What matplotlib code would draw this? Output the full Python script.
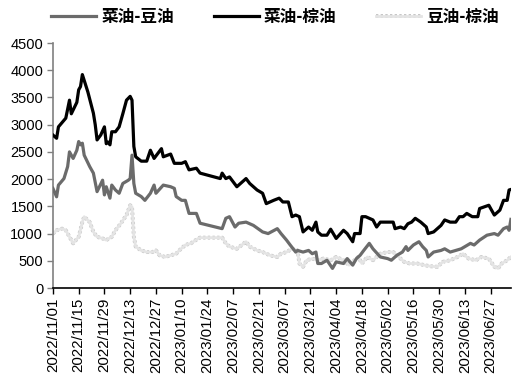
import pandas as pd
import matplotlib
matplotlib.use("Agg")
import matplotlib.pyplot as plt
import matplotlib.dates as mdates
from matplotlib.ticker import FixedLocator
from matplotlib.legend_handler import HandlerTuple

# ------------------------------------------------------------
# Data (spread, yuan/ton)
# ------------------------------------------------------------

# 菜油-棕油 (black)
rp_dates = [
    "2022-11-01", "2022-11-03", "2022-11-04", "2022-11-08", "2022-11-10",
    "2022-11-11", "2022-11-14", "2022-11-15", "2022-11-16", "2022-11-17",
    "2022-11-20", "2022-11-23", "2022-11-24", "2022-11-25", "2022-11-27",
    "2022-11-29", "2022-11-30", "2022-12-01", "2022-12-02", "2022-12-03",
    "2022-12-05", "2022-12-07", "2022-12-09", "2022-12-11", "2022-12-13",
    "2022-12-14", "2022-12-15", "2022-12-16", "2022-12-19", "2022-12-22",
    "2022-12-24", "2022-12-26", "2022-12-30", "2022-12-31", "2023-01-04",
    "2023-01-06", "2023-01-10", "2023-01-12", "2023-01-14", "2023-01-18",
    "2023-01-20", "2023-01-31", "2023-02-01", "2023-02-03", "2023-02-05",
    "2023-02-09", "2023-02-14", "2023-02-16", "2023-02-20", "2023-02-23",
    "2023-02-25", "2023-03-01", "2023-03-04", "2023-03-06", "2023-03-09",
    "2023-03-11", "2023-03-13", "2023-03-15", "2023-03-17", "2023-03-20",
    "2023-03-22", "2023-03-24", "2023-03-25", "2023-03-27", "2023-03-30",
    "2023-04-01", "2023-04-04", "2023-04-08", "2023-04-10", "2023-04-13",
    "2023-04-14", "2023-04-17", "2023-04-18", "2023-04-20", "2023-04-24",
    "2023-04-26", "2023-04-28", "2023-05-05", "2023-05-06", "2023-05-09",
    "2023-05-11", "2023-05-13", "2023-05-15", "2023-05-17", "2023-05-20",
    "2023-05-23", "2023-05-24", "2023-05-27", "2023-05-31", "2023-06-02",
    "2023-06-05", "2023-06-08", "2023-06-10", "2023-06-12", "2023-06-14",
    "2023-06-17", "2023-06-20", "2023-06-21", "2023-06-26", "2023-06-29",
    "2023-07-02", "2023-07-04", "2023-07-06", "2023-07-07", "2023-07-08",
]
rp_values = [
    2810, 2750, 2960, 3120, 3450, 3200, 3410, 3640, 3700, 3920,
    3600, 3210, 3000, 2720, 2810, 2960, 2650, 2680, 2630, 2870,
    2870, 2960, 3200, 3450, 3520, 3450, 2600, 2410, 2330, 2330,
    2530, 2380, 2560, 2410, 2460, 2290, 2290, 2320, 2170, 2200,
    2110, 2010, 2110, 2010, 2040, 1860, 2010, 1920, 1800, 1740,
    1550, 1610, 1650, 1580, 1580, 1310, 1340, 1310, 1030, 1120,
    1060, 1210, 1030, 970, 970, 1080, 910, 1060, 1000, 850,
    1000, 1000, 1310, 1310, 1250, 1120, 1210, 1210, 1090, 1120,
    1090, 1180, 1210, 1280, 1210, 1120, 1000, 1030, 1150, 1250,
    1210, 1210, 1310, 1310, 1370, 1310, 1310, 1460, 1520, 1340,
    1430, 1610, 1610, 1800, 1810,
]

# 菜油-豆油 (dark grey)
rs_dates = [
    "2022-11-01", "2022-11-03", "2022-11-04", "2022-11-07", "2022-11-09",
    "2022-11-10", "2022-11-12", "2022-11-14", "2022-11-15", "2022-11-16",
    "2022-11-17", "2022-11-18", "2022-11-21", "2022-11-23", "2022-11-25",
    "2022-11-28", "2022-11-29", "2022-11-30", "2022-12-02", "2022-12-03",
    "2022-12-05", "2022-12-07", "2022-12-09", "2022-12-12", "2022-12-13",
    "2022-12-14", "2022-12-15", "2022-12-16", "2022-12-19", "2022-12-21",
    "2022-12-24", "2022-12-26", "2022-12-27", "2022-12-31", "2023-01-04",
    "2023-01-06", "2023-01-07", "2023-01-10", "2023-01-12", "2023-01-14",
    "2023-01-18", "2023-01-20", "2023-02-01", "2023-02-03", "2023-02-05",
    "2023-02-08", "2023-02-10", "2023-02-14", "2023-02-18", "2023-02-23",
    "2023-02-26", "2023-03-03", "2023-03-05", "2023-03-08", "2023-03-10",
    "2023-03-13", "2023-03-14", "2023-03-17", "2023-03-20", "2023-03-22",
    "2023-03-24", "2023-03-25", "2023-03-27", "2023-03-30", "2023-04-02",
    "2023-04-04", "2023-04-08", "2023-04-10", "2023-04-13", "2023-04-15",
    "2023-04-17", "2023-04-19", "2023-04-22", "2023-04-24", "2023-04-28",
    "2023-05-02", "2023-05-04", "2023-05-07", "2023-05-10", "2023-05-12",
    "2023-05-13", "2023-05-16", "2023-05-19", "2023-05-21", "2023-05-23",
    "2023-05-24", "2023-05-27", "2023-05-31", "2023-06-02", "2023-06-05",
    "2023-06-08", "2023-06-11", "2023-06-13", "2023-06-16", "2023-06-18",
    "2023-06-21", "2023-06-25", "2023-06-29", "2023-07-01", "2023-07-04",
    "2023-07-06", "2023-07-07", "2023-07-08",
]
rs_values = [
    1830, 1675, 1890, 2010, 2230, 2500, 2380, 2530, 2690, 2630,
    2660, 2440, 2230, 2110, 1770, 1980, 1710, 1860, 1650, 1890,
    1800, 1740, 1920, 1980, 2010, 2440, 1920, 1740, 1680, 1610,
    1740, 1890, 1740, 1890, 1860, 1830, 1680, 1610, 1610, 1370,
    1370, 1190, 1090, 1280, 1310, 1120, 1190, 1210, 1150, 1030,
    1000, 1090, 1000, 880, 790, 660, 690, 660, 690, 630,
    660, 450, 450, 510, 360, 480, 450, 540, 420, 540,
    600, 690, 820, 720, 570, 540, 510, 600, 660, 760,
    690, 790, 850, 760, 690, 570, 660, 690, 720, 660,
    690, 720, 760, 820, 790, 880, 970, 1000, 970, 1090,
    1120, 1060, 1260,
]

# 豆油-棕油 (light grey)
sp_dates = [
    "2022-11-01", "2022-11-03", "2022-11-06", "2022-11-08", "2022-11-10",
    "2022-11-12", "2022-11-15", "2022-11-17", "2022-11-18", "2022-11-21",
    "2022-11-23", "2022-11-25", "2022-11-28", "2022-11-30", "2022-12-03",
    "2022-12-05", "2022-12-08", "2022-12-11", "2022-12-13", "2022-12-14",
    "2022-12-15", "2022-12-16", "2022-12-19", "2022-12-22", "2022-12-25",
    "2022-12-27", "2022-12-29", "2023-01-01", "2023-01-04", "2023-01-07",
    "2023-01-09", "2023-01-12", "2023-01-15", "2023-01-19", "2023-01-20",
    "2023-02-01", "2023-02-03", "2023-02-05", "2023-02-09", "2023-02-14",
    "2023-02-16", "2023-02-20", "2023-02-23", "2023-02-27", "2023-03-03",
    "2023-03-05", "2023-03-08", "2023-03-11", "2023-03-14", "2023-03-15",
    "2023-03-17", "2023-03-19", "2023-03-22", "2023-03-25", "2023-03-28",
    "2023-04-01", "2023-04-04", "2023-04-08", "2023-04-11", "2023-04-14",
    "2023-04-16", "2023-04-18", "2023-04-21", "2023-04-24", "2023-04-28",
    "2023-05-02", "2023-05-05", "2023-05-08", "2023-05-11", "2023-05-14",
    "2023-05-18", "2023-05-22", "2023-05-25", "2023-05-29", "2023-06-01",
    "2023-06-05", "2023-06-09", "2023-06-12", "2023-06-15", "2023-06-19",
    "2023-06-22", "2023-06-26", "2023-06-29", "2023-07-01", "2023-07-03",
    "2023-07-06", "2023-07-08",
]
sp_values = [
    1000, 1060, 1090, 1060, 940, 820, 940, 1210, 1310, 1210,
    1030, 940, 910, 880, 940, 1060, 1190, 1340, 1520, 1490,
    940, 760, 690, 660, 660, 690, 600, 570, 600, 630,
    700, 790, 820, 910, 925, 925, 820, 760, 720, 850,
    760, 690, 660, 600, 570, 630, 660, 720, 690, 450,
    390, 510, 540, 510, 540, 510, 570, 510, 420, 510,
    570, 450, 570, 510, 630, 660, 660, 570, 480, 450,
    450, 420, 400, 390, 480, 510, 570, 630, 540, 510,
    570, 540, 390, 360, 450, 510, 570,
]

y_ticks = list(range(0, 4501, 500))
x_start = "2022-11-01"
x_last_tick = "2023-06-27"
x_end = "2023-07-08"


def main():
    plt.rcParams["font.family"] = ["Liberation Sans", "Noto Sans CJK SC"]

    fig = plt.figure(figsize=(5.24, 3.84), dpi=100)
    ax = fig.add_axes([0.101, 0.25, 0.874, 0.638])

    rs = ax.plot(pd.to_datetime(rs_dates), rs_values, color="#6b6b6b",
                 lw=2.3, solid_joinstyle="round", zorder=3)[0]
    rp = ax.plot(pd.to_datetime(rp_dates), rp_values, color="#000000",
                 lw=2.3, solid_joinstyle="round", zorder=4)[0]
    # light line with a faint dotted rim, like the Excel rendering
    sp_rim = ax.plot(pd.to_datetime(sp_dates), sp_values, color="#c4c4c4",
                     lw=2.8, ls=(0, (0.6, 0.6)), zorder=2)[0]
    sp_core = ax.plot(pd.to_datetime(sp_dates), sp_values, color="#e4e4e4",
                      lw=2.0, solid_joinstyle="round", zorder=2.5)[0]

    ax.set_ylim(0, 4500)
    ax.set_yticks(y_ticks)
    ax.set_xlim(pd.Timestamp(x_start), pd.Timestamp(x_end))
    tick_dates = pd.date_range(x_start, x_last_tick, freq="14D")
    ax.xaxis.set_major_locator(FixedLocator(mdates.date2num(tick_dates)))
    ax.xaxis.set_major_formatter(mdates.DateFormatter("%Y/%m/%d"))
    ax.tick_params(axis="x", labelrotation=90, labelsize=10.8, length=4,
                   width=1, color="#000000", pad=3)
    ax.tick_params(axis="y", labelsize=10.5, length=4, width=1,
                   color="#808080", pad=3)

    for side in ["top", "right"]:
        ax.spines[side].set_visible(False)
    ax.spines["left"].set_color("#808080")
    ax.spines["left"].set_linewidth(1.2)
    ax.spines["bottom"].set_color("#000000")
    ax.spines["bottom"].set_linewidth(1.2)

    fig.legend(
        [rs, rp, (sp_rim, sp_core)],
        ["菜油-豆油", "菜油-棕油", "豆油-棕油"],
        handler_map={tuple: HandlerTuple(ndivide=1)},
        loc="center", bbox_to_anchor=(0.525, 0.957), ncol=3, frameon=False,
        prop={"family": ["Noto Sans CJK SC"], "weight": "bold", "size": 12},
        handlelength=2.7, handletextpad=0.3, columnspacing=2.4,
    )

    fig.savefig("out.png", dpi=100)


if __name__ == "__main__":
    main()
